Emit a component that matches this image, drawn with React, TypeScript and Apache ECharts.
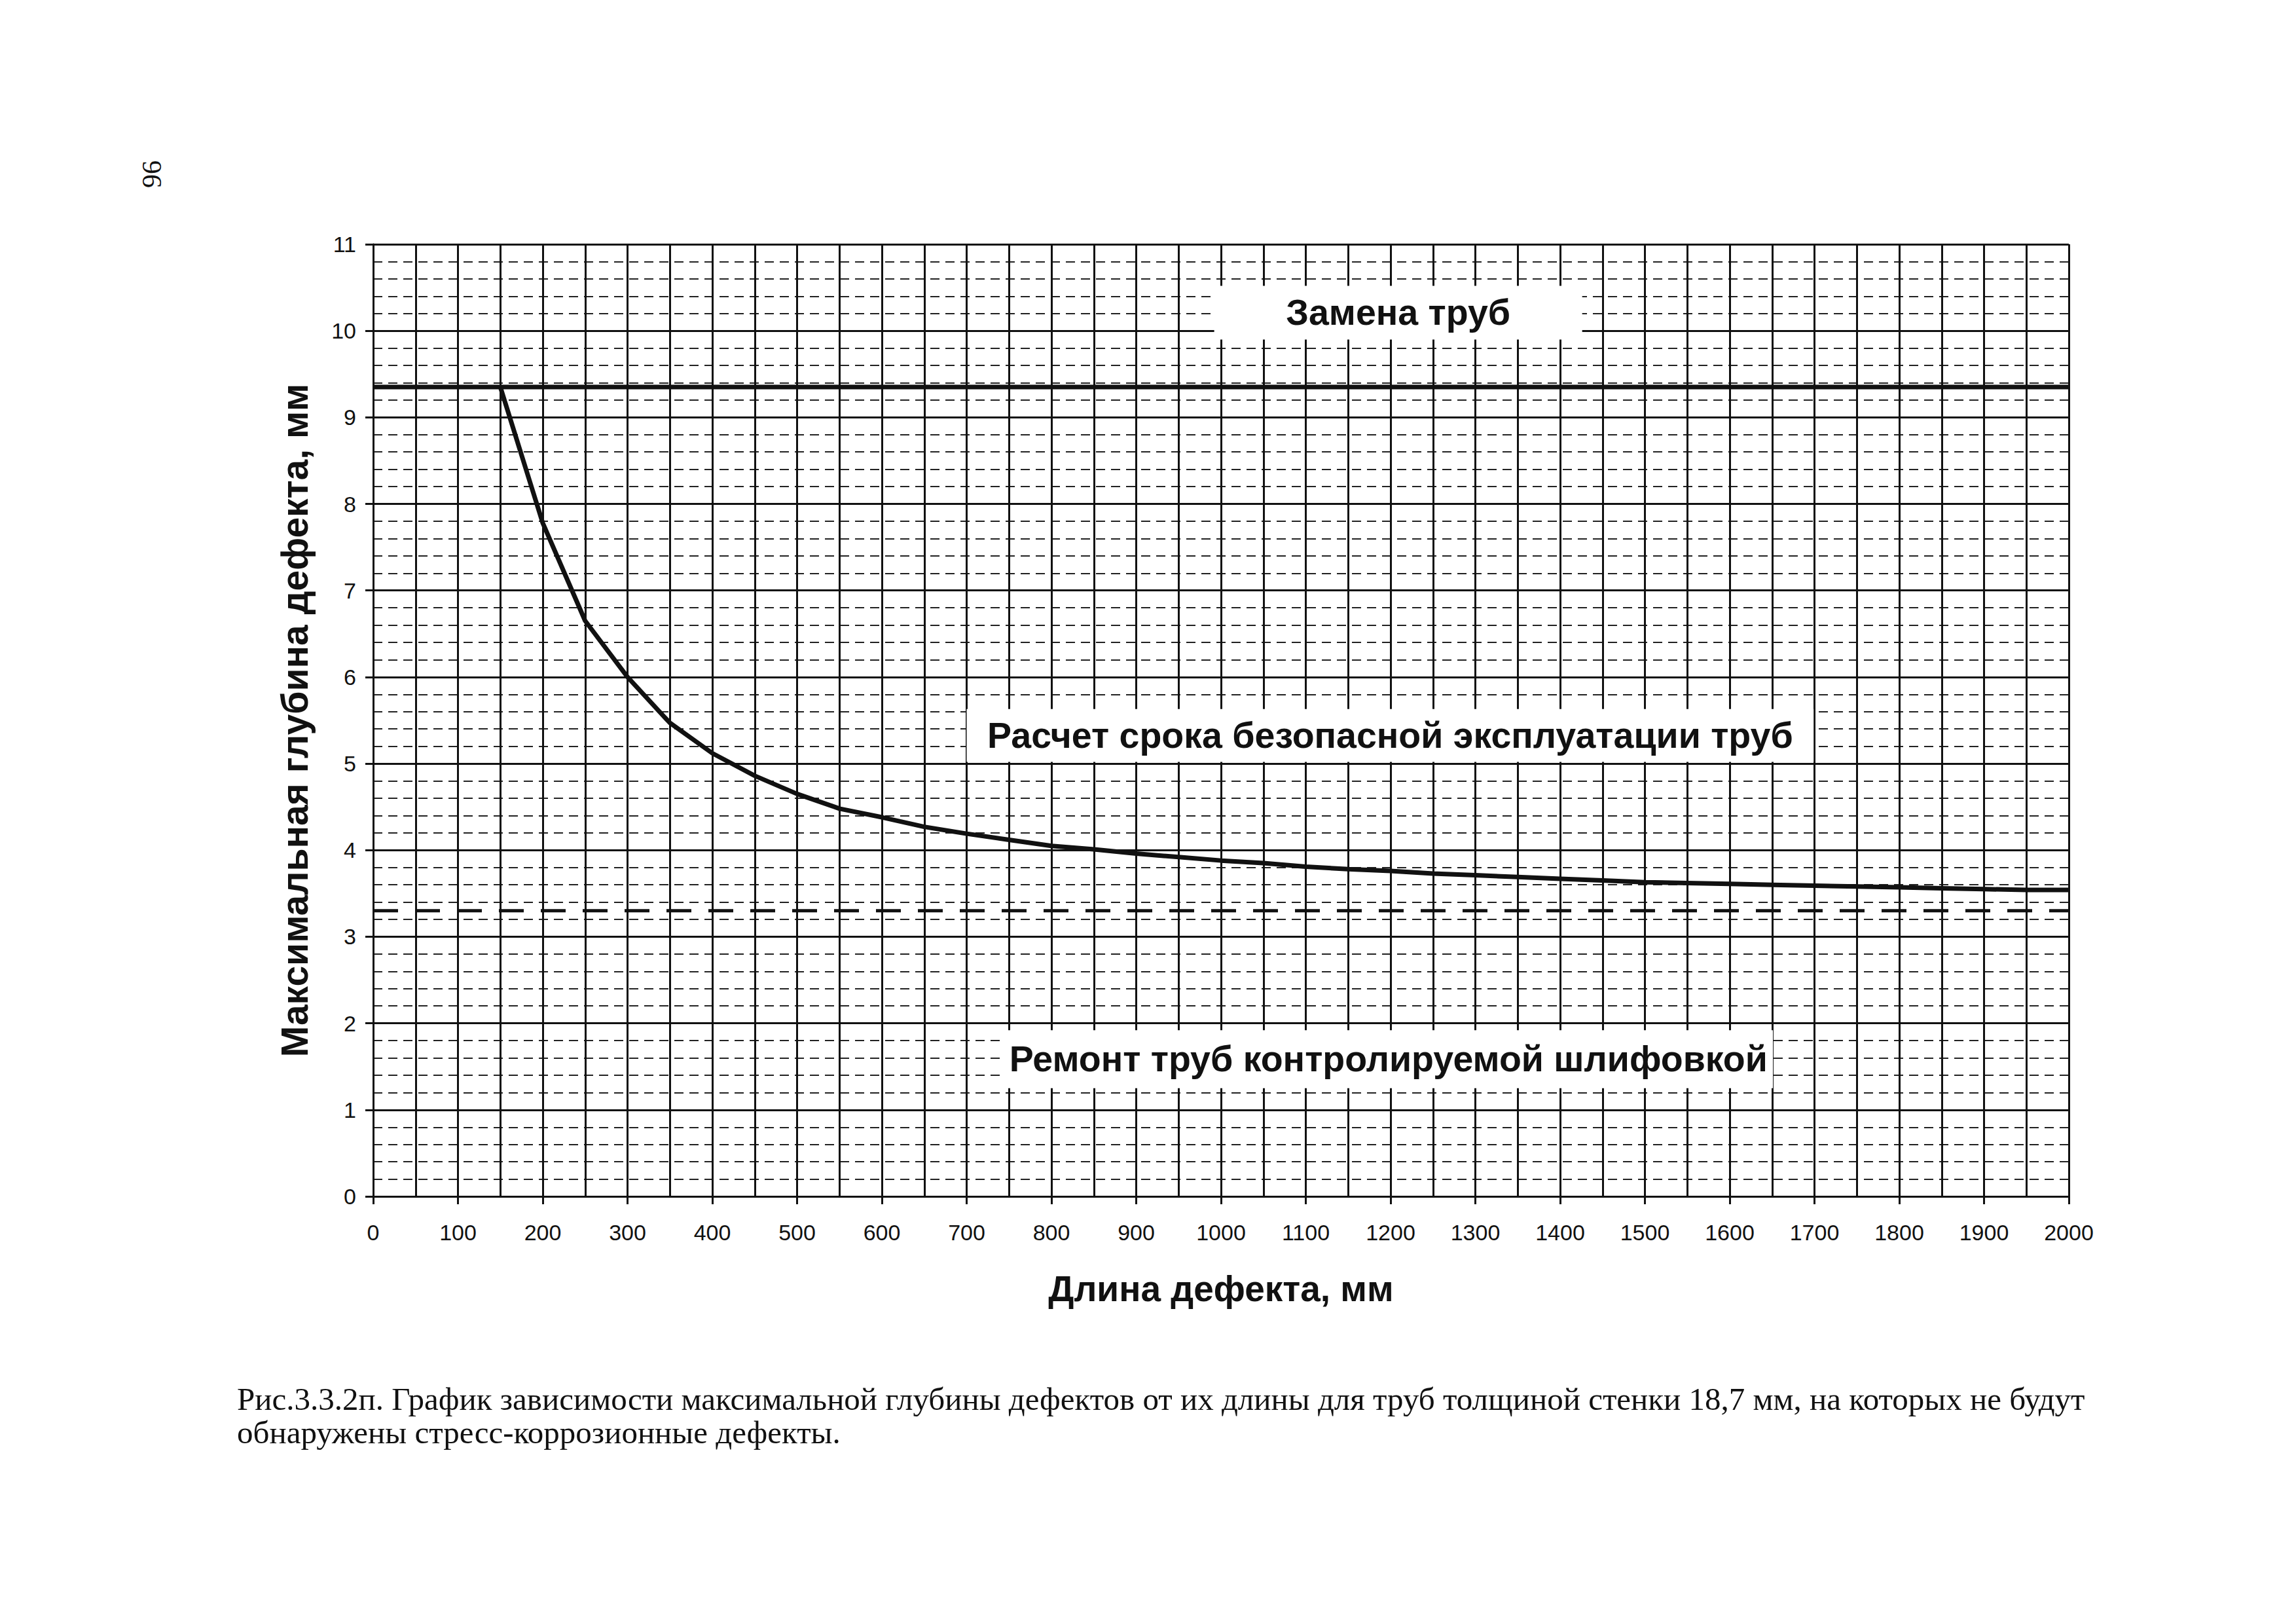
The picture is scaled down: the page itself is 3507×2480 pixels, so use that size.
import React, { useEffect, useRef } from "react";
import * as echarts from "echarts";

// ---- Data ----
const defectLength = [150, 200, 250, 300, 350, 400, 450, 500, 550, 600, 650, 700, 750, 800, 850, 900, 950, 1000, 1050, 1100, 1150, 1200, 1250, 1300, 1350, 1400, 1450, 1500, 1550, 1600, 1650, 1700, 1750, 1800, 1850, 1900, 1950, 2000];
const maxDefectDepth = [9.35, 7.78, 6.65, 6.0, 5.47, 5.12, 4.86, 4.65, 4.48, 4.38, 4.27, 4.19, 4.12, 4.05, 4.01, 3.96, 3.92, 3.88, 3.85, 3.81, 3.78, 3.76, 3.73, 3.71, 3.69, 3.67, 3.65, 3.63, 3.62, 3.61, 3.6, 3.59, 3.58, 3.57, 3.56, 3.55, 3.54, 3.54];

const replaceLevel = 9.35; // upper solid limit
const grindLevel = 3.3; // lower dashed limit
const xRange = [0, 2000];
const yRange = [0, 11];

// zone labels with their white boxes, in data units
const zoneNames = ["Замена труб", "Расчет срока безопасной эксплуатации труб", "Ремонт труб контролируемой шлифовкой"];
const zoneX1 = [992, 700, 744];
const zoneX2 = [1426, 1699, 1651];
const zoneY1 = [9.9, 5.02, 1.25];
const zoneY2 = [10.52, 5.63, 1.92];

const xTitle = "Длина дефекта, мм";
const yTitle = "Максимальная глубина дефекта, мм";
const captionLines = [
  "Рис.3.3.2п. График зависимости максимальной глубины дефектов от их длины для труб толщиной стенки 18,7 мм, на которых не будут",
  "обнаружены стресс-коррозионные дефекты.",
];
const pageNumber = "96";

const INK = "#111";
const SANS = "'Liberation Sans', Arial, sans-serif";
const SERIF = "'Liberation Serif', 'Times New Roman', serif";

export default function App() {
  const ref = useRef<HTMLDivElement>(null);

  useEffect(() => {
    if (!ref.current) return;
    const chart = echarts.init(ref.current, null, { renderer: "svg" });

    const curve = defectLength.map((x, i) => [x, maxDefectDepth[i]]);
    const areas = zoneNames.map((name, i) => [
      { name, xAxis: zoneX1[i], yAxis: zoneY2[i] },
      { xAxis: zoneX2[i], yAxis: zoneY1[i] },
    ]);

    chart.setOption({
      animation: false,
      backgroundColor: "#fff",
      grid: { left: 570, right: 347, top: 373, bottom: 653, containLabel: false },
      xAxis: {
        type: "value",
        min: xRange[0],
        max: xRange[1],
        interval: 100,
        name: xTitle,
        nameLocation: "middle",
        nameGap: 113,
        nameTextStyle: { fontFamily: SANS, fontSize: 55, fontWeight: "bold", color: INK },
        axisLine: { show: true, lineStyle: { color: INK, width: 3 } },
        axisTick: { show: true, length: 12, lineStyle: { color: INK, width: 3 } },
        axisLabel: {
          fontFamily: SANS,
          fontSize: 34,
          color: INK,
          margin: 38,
          formatter: (v: number) => String(v),
        },
        splitLine: { show: true, lineStyle: { color: INK, width: 3 } },
        minorTick: { show: false, splitNumber: 2 },
        minorSplitLine: { show: true, lineStyle: { color: INK, width: 3 } },
      },
      yAxis: {
        type: "value",
        min: yRange[0],
        max: yRange[1],
        interval: 1,
        name: yTitle,
        nameLocation: "middle",
        nameGap: 92,
        nameRotate: 90,
        nameTextStyle: { fontFamily: SANS, fontSize: 57, fontWeight: "bold", color: INK },
        axisLine: { show: true, lineStyle: { color: INK, width: 3 } },
        axisTick: { show: true, length: 12, lineStyle: { color: INK, width: 3 } },
        axisLabel: {
          fontFamily: SANS,
          fontSize: 34,
          color: INK,
          margin: 26,
          formatter: (v: number) => String(v),
        },
        splitLine: { show: true, lineStyle: { color: INK, width: 3 } },
        minorTick: { show: false, splitNumber: 5 },
        minorSplitLine: { show: true, lineStyle: { color: "#222", width: 2, type: [14, 9] } },
      },
      series: [
        {
          type: "line",
          name: "limit-replace",
          data: [[xRange[0], replaceLevel], [xRange[1], replaceLevel]],
          symbol: "none",
          silent: true,
          lineStyle: { color: INK, width: 7 },
          z: 4,
          markArea: {
            silent: true,
            itemStyle: { color: "#fff", opacity: 1, borderWidth: 0 },
            label: {
              show: true,
              position: "inside",
              fontFamily: SANS,
              fontSize: 55.5,
              fontWeight: "bold",
              color: INK,
            },
            data: areas,
          },
        },
        {
          type: "line",
          name: "limit-grind",
          data: [[xRange[0], grindLevel], [xRange[1], grindLevel]],
          symbol: "none",
          silent: true,
          lineStyle: { color: INK, width: 5, type: [38, 26] },
          z: 4,
        },
        {
          type: "line",
          name: "curve",
          data: curve,
          symbol: "none",
          silent: true,
          lineStyle: { color: INK, width: 7 },
          z: 5,
        },
      ],
      graphic: [
        {
          type: "text",
          x: 232,
          y: 266,
          rotation: Math.PI / 2,
          style: {
            text: pageNumber,
            fontFamily: SERIF,
            fontSize: 42,
            fill: INK,
            textAlign: "center",
            textVerticalAlign: "middle",
          },
        },
        ...captionLines.map((t, i) => ({
          type: "text",
          x: 362,
          y: 2136 + i * 51,
          style: {
            text: t,
            fontFamily: SERIF,
            fontSize: 49,
            fill: INK,
            textAlign: "left",
            textVerticalAlign: "middle",
          },
        })),
      ],
    });

    return () => chart.dispose();
  }, []);

  return (
    <div
      ref={ref}
      style={{ position: "fixed", left: 0, top: 0, width: 3507, height: 2480, background: "#fff" }}
    />
  );
}
